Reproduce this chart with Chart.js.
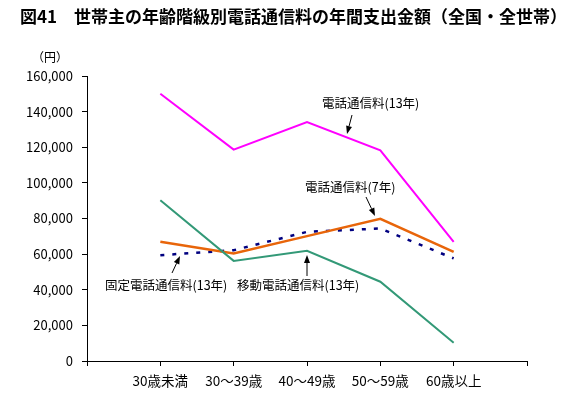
<!DOCTYPE html>
<html>
<head>
<meta charset="utf-8">
<script src="https://cdn.jsdelivr.net/npm/chart.js@4"></script>
<style>
  html, body { margin: 0; padding: 0; background: #fff; }
  #wrap { width: 577px; height: 416px; }
</style>
</head>
<body>
<div id="wrap"><canvas id="chart" width="577" height="416"></canvas></div>
<script>
// Data
const categories = ['30歳未満', '30～39歳', '40～49歳', '50～59歳', '60歳以上'];
const phone13 = [150000, 118700, 134200, 118300, 66900];   // 電話通信料(13年)
const phone7 = [66900, 60400, 70100, 79800, 61300];        // 電話通信料(7年)
const mobile13 = [90300, 56200, 61900, 44500, 10300];      // 移動電話通信料(13年)
const fixed13 = [59400, 62200, 72500, 74400, 57600];       // 固定電話通信料(13年)
const yTicks = [0, 20000, 40000, 60000, 80000, 100000, 120000, 140000, 160000];

const FONT = '"Noto Sans CJK JP", "Noto Sans", sans-serif';

// one empty slot on each side of the categories
const labels = [''].concat(categories, ['']);
function pad(arr) { return [null].concat(arr, [null]); }

// title, unit and callouts
const overlay = {
    id: 'overlay',
    afterDraw(chart) {
        const ctx = chart.ctx;
        ctx.save();
        ctx.fillStyle = '#000';
        ctx.textBaseline = 'middle';
        ctx.textAlign = 'left';
        ctx.font = 'bold 17px ' + FONT;
        ctx.fillText('図41　世帯主の年齢階級別電話通信料の年間支出金額（全国・全世帯）', 20, 17);

        ctx.font = '12px ' + FONT;
        ctx.fillText('（円）', 32, 57);

        ctx.font = '12.5px ' + FONT;
        const notes = [
            { text: '電話通信料(13年)', x: 322, y: 103, from: [352, 115], to: [347, 134] },
            { text: '電話通信料(7年)', x: 305, y: 187, from: [366, 197], to: [375, 216] },
            { text: '固定電話通信料(13年)', x: 105, y: 285, from: [172, 273], to: [180, 256] },
            { text: '移動電話通信料(13年)', x: 237, y: 285, from: [307, 276], to: [307, 255] }
        ];
        notes.forEach(n => {
            ctx.fillText(n.text, n.x, n.y);
            drawArrow(ctx, n.from, n.to);
        });
        ctx.restore();
    }
};

function drawArrow(ctx, from, to) {
    const ang = Math.atan2(to[1] - from[1], to[0] - from[0]);
    const len = 8, half = 3;
    ctx.strokeStyle = '#000';
    ctx.lineWidth = 1;
    ctx.beginPath();
    ctx.moveTo(from[0], from[1]);
    ctx.lineTo(to[0] - Math.cos(ang) * len, to[1] - Math.sin(ang) * len);
    ctx.stroke();
    ctx.beginPath();
    ctx.moveTo(to[0], to[1]);
    ctx.lineTo(to[0] - Math.cos(ang) * len - Math.sin(ang) * half, to[1] - Math.sin(ang) * len + Math.cos(ang) * half);
    ctx.lineTo(to[0] - Math.cos(ang) * len + Math.sin(ang) * half, to[1] - Math.sin(ang) * len - Math.cos(ang) * half);
    ctx.closePath();
    ctx.fillStyle = '#000';
    ctx.fill();
}

const data = {
    labels: labels,
    datasets: [
        {
            label: '電話通信料(13年)',
            data: pad(phone13),
            borderColor: '#ff00ff',
            borderWidth: 2
        },
        {
            label: '移動電話通信料(13年)',
            data: pad(mobile13),
            borderColor: '#339977',
            borderWidth: 2
        },
        {
            label: '電話通信料(7年)',
            data: pad(phone7),
            borderColor: '#e8650a',
            borderWidth: 2.5
        },
        {
            label: '固定電話通信料(13年)',
            data: pad(fixed13),
            borderColor: '#000080',
            borderWidth: 2.5,
            borderDash: [4, 8]
        }
    ]
};

const config = {
    type: 'line',
    data: data,
    options: {
        responsive: false,
        animation: false,
        spanGaps: false,
        elements: {
            point: { radius: 0 },
            line: { tension: 0, fill: false }
        },
        layout: {
            padding: { top: 76, right: 50, bottom: 0, left: 0 }
        },
        plugins: {
            legend: { display: false },
            title: { display: false },
            tooltip: { enabled: false }
        },
        scales: {
            x: {
                type: 'category',
                offset: false,
                afterFit: function(scale) { scale.height = 55; },
                grid: {
                    offset: false,
                    drawOnChartArea: false,
                    drawTicks: true,
                    tickLength: 5,
                    color: '#000'
                },
                border: { display: true, color: '#000', width: 1 },
                ticks: {
                    color: '#000',
                    font: { family: FONT, size: 13.5 },
                    padding: 7,
                    maxRotation: 0,
                    autoSkip: false
                }
            },
            y: {
                min: 0,
                max: 160000,
                afterFit: function(scale) { scale.width = 87; },
                afterBuildTicks: function(scale) {
                    scale.ticks = yTicks.map(v => ({ value: v }));
                },
                grid: {
                    drawOnChartArea: false,
                    drawTicks: true,
                    tickLength: 5,
                    color: '#000'
                },
                border: { display: true, color: '#000', width: 1 },
                ticks: {
                    color: '#000',
                    font: { family: FONT, size: 13 },
                    padding: 9,
                    callback: v => v.toLocaleString('en-US')
                }
            }
        }
    },
    plugins: [overlay]
};

new Chart(document.getElementById('chart').getContext('2d'), config);
</script>
</body>
</html>
